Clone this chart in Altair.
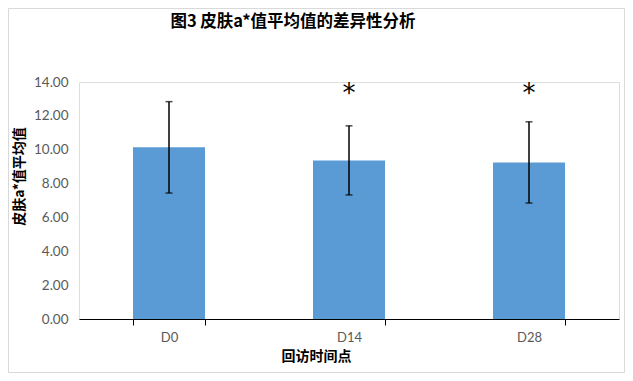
import altair as alt
import pandas as pd

categories = ["D0", "D14", "D28"]
means = [10.14, 9.37, 9.25]
sds = [2.70, 2.04, 2.40]
sig_marks = ["", "*", "*"]
sig_y = [13.6, 13.6, 13.6]
y_ticks = [0, 2, 4, 6, 8, 10, 12, 14]

df = pd.DataFrame({
    "visit": categories,
    "mean": means,
    "sd": sds,
    "sig": sig_marks,
    "sig_y": sig_y,
})
df["lo"] = df["mean"] - df["sd"]
df["hi"] = df["mean"] + df["sd"]

W, H = 540, 237
PL, PT = 71, 74

xscale = alt.Scale(paddingInner=0.6, paddingOuter=0.3)
yscale = alt.Scale(domain=[0, 14], nice=False)

x_axis = alt.Axis(
    title="回访时间点", titleFont="Noto Sans CJK SC", titleFontSize=14,
    titleFontWeight="bold", titleColor="#000000",
    titleX=237, titleY=37, titleBaseline="middle", titleAlign="center",
    labelAngle=0, labelFont="Lato", labelFontSize=13, labelColor="#595959",
    labelPadding=6, tickBand="extent", tickSize=6, tickColor="#000000",
    domainColor="#000000", tickWidth=1, domainWidth=1, grid=False,
)
y_axis = alt.Axis(
    title="皮肤a*值平均值", titleFont="Noto Sans CJK SC", titleFontSize=14,
    titleFontWeight="bold", titleColor="#000000",
    titleX=-60, titleY=94, titleBaseline="middle", titleAlign="center",
    titleAngle=-90,
    values=y_ticks, format=".2f", labelFont="Lato", labelFontSize=13.5,
    labelColor="#595959", labelPadding=11, labelOverlap=False,
    ticks=False, tickSize=0, domain=False, grid=False,
)

xs = alt.X("visit:N", sort=categories, scale=xscale, axis=x_axis)

def ys(field):
    return alt.Y(field, scale=yscale, axis=y_axis, title="皮肤a*值平均值")

bars = alt.Chart(df).mark_bar(color="#5B9BD5").encode(
    x=xs, y=ys("mean:Q"),
)

rules = alt.Chart(df).mark_rule(color="#000000", strokeWidth=1.5).encode(
    x=xs, y=ys("lo:Q"), y2="hi:Q",
)

caps_lo = alt.Chart(df).mark_tick(color="#000000", size=7, thickness=1.5, orient="horizontal").encode(
    x=xs, y=ys("lo:Q"),
)
caps_hi = alt.Chart(df).mark_tick(color="#000000", size=7, thickness=1.5, orient="horizontal").encode(
    x=xs, y=ys("hi:Q"),
)

stars = alt.Chart(df).mark_text(
    font="DejaVu Sans", fontSize=26, color="#000000", baseline="alphabetic", dy=13
).encode(
    x=xs, y=ys("sig_y:Q"), text="sig:N",
)

border = alt.Chart(alt.Data(values=[{}])).mark_rect(
    fillOpacity=0, stroke="#D9D9D9", strokeWidth=1
).encode(
    x=alt.value(-PL + 0.5), x2=alt.value(617 - PL - 0.5),
    y=alt.value(-PT + 0.5), y2=alt.value(365 - PT - 0.5),
)

chart = alt.layer(bars, rules, caps_lo, caps_hi, stars, border).properties(
    width=W, height=H,
    autosize=alt.AutoSizeParams(type="none"),
    padding={"left": PL, "top": PT, "right": 617 - PL - W, "bottom": 365 - PT - H},
    title=alt.TitleParams(
        "图3  皮肤a*值平均值的差异性分析", font="Noto Sans CJK SC", fontSize=16.5,
        fontWeight="bold", color="#000000", anchor="middle", frame="group",
        dx=-56, offset=0, dy=22,
    ),
).configure_view(strokeWidth=0, stroke="transparent").configure(background="#FFFFFF")

chart.save("out.html", embed_options={"renderer": "svg", "actions": False})
